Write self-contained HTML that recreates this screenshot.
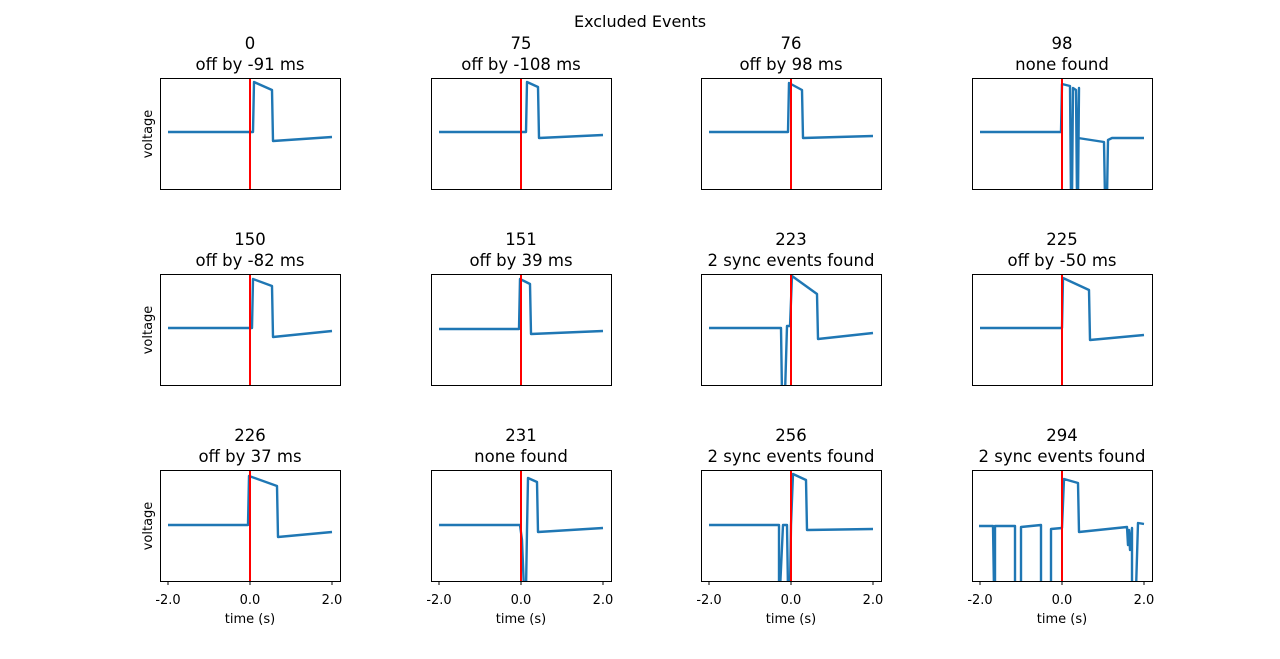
<!DOCTYPE html>
<html><head><style>body{margin:0;background:#fff}</style></head><body>
<svg width="1280" height="654" xmlns="http://www.w3.org/2000/svg" font-family="DejaVu Sans, Liberation Sans, sans-serif">
<rect width="1280" height="654" fill="#fff"/>
<text x="640" y="27" font-size="16" text-anchor="middle">Excluded Events</text>
<defs><clipPath id="c"><rect x="0" y="0" width="180" height="111"/></clipPath></defs>
<g font-size="16.5" text-anchor="middle">
<text x="250" y="49">0</text><text x="250" y="70">off by -91 ms</text>
<text x="521" y="49">75</text><text x="521" y="70">off by -108 ms</text>
<text x="791" y="49">76</text><text x="791" y="70">off by 98 ms</text>
<text x="1062" y="49">98</text><text x="1062" y="70">none found</text>
<text x="250" y="245">150</text><text x="250" y="266">off by -82 ms</text>
<text x="521" y="245">151</text><text x="521" y="266">off by 39 ms</text>
<text x="791" y="245">223</text><text x="791" y="266">2 sync events found</text>
<text x="1062" y="245">225</text><text x="1062" y="266">off by -50 ms</text>
<text x="250" y="441">226</text><text x="250" y="462">off by 37 ms</text>
<text x="521" y="441">231</text><text x="521" y="462">none found</text>
<text x="791" y="441">256</text><text x="791" y="462">2 sync events found</text>
<text x="1062" y="441">294</text><text x="1062" y="462">2 sync events found</text>
</g>
<g font-size="13" text-anchor="middle">
<text transform="translate(152,134) rotate(-90)">voltage</text>
<text transform="translate(152,330) rotate(-90)">voltage</text>
<text transform="translate(152,526) rotate(-90)">voltage</text>
</g>
<g font-size="13" text-anchor="middle">
<g id="tk"><text x="168" y="604">-2.0</text><text x="250" y="604">0.0</text><text x="332" y="604">2.0</text><text x="250" y="623">time (s)</text>
<path d="M168 581v4M250 581v4M332 581v4" stroke="#000"/></g>
<use href="#tk" x="271"/><use href="#tk" x="541"/><use href="#tk" x="812"/>
</g>
<g fill="none" stroke="#1f77b4" stroke-width="2.4" stroke-linejoin="round">
<g transform="translate(160,78)" clip-path="url(#c)"><polyline points="8,54 93,54 94,4 112,12 113,63 172,59"/></g>
<g transform="translate(431,78)" clip-path="url(#c)"><polyline points="8,54 95,54 96,4 107,9 108,60 172,57"/></g>
<g transform="translate(701,78)" clip-path="url(#c)"><polyline points="8,54 87,54 88,5 101,12 102,60 172,58"/></g>
<g transform="translate(972,78)" clip-path="url(#c)"><polyline points="8,54 89,54 90,6 98,8 99,120 100,120 101,10 104,12 105,120 106,120 107,10 106,60 132,64 133,120 135,120 136,62 140,60 172,60"/></g>
<g transform="translate(160,274)" clip-path="url(#c)"><polyline points="8,54 92,54 93,5 112,12 113,63 172,57"/></g>
<g transform="translate(431,274)" clip-path="url(#c)"><polyline points="8,55 88,55 89,5 99,10 100,60 172,57"/></g>
<g transform="translate(701,274)" clip-path="url(#c)"><polyline points="8,54 80,54 81,120 84,120 86,52 89,52 91,2 116,20 117,65 172,59"/></g>
<g transform="translate(972,274)" clip-path="url(#c)"><polyline points="8,54 90,54 91,4 117,16 118,66 172,61"/></g>
<g transform="translate(160,470)" clip-path="url(#c)"><polyline points="8,55 88,55 89,6 117,16 118,67 172,62"/></g>
<g transform="translate(431,470)" clip-path="url(#c)"><polyline points="8,55 89,55 91,70 93,120 95,120 96,60 97,8 106,12 107,62 172,58"/></g>
<g transform="translate(701,470)" clip-path="url(#c)"><polyline points="8,55 78,55 78,120 79,120 82,55 86,55 87,120 89,120 90,55 92,4 105,10 106,60 172,59"/></g>
<g transform="translate(972,470)" clip-path="url(#c)"><polyline points="7,56 21,56 22,120 23,120 23,56 43,56 43,120 49,120 49,57 69,55 69,120 79,120 79,59 90,58 92,9 106,13 107,62 155,57 156,75 157,60 158,80 160,58 160,120 164,120 166,53 172,54"/></g>
</g>
<g stroke="#f00" stroke-width="2">
<path d="M250 78v111M521 78v111M791 78v111M1062 78v111M250 274v111M521 274v111M791 274v111M1062 274v111M250 470v111M521 470v111M791 470v111M1062 470v111"/>
</g>
<g fill="none" stroke="#000" stroke-width="1">
<rect x="160.5" y="78.5" width="180" height="111"/><rect x="431.5" y="78.5" width="180" height="111"/><rect x="701.5" y="78.5" width="180" height="111"/><rect x="972.5" y="78.5" width="180" height="111"/>
<rect x="160.5" y="274.5" width="180" height="111"/><rect x="431.5" y="274.5" width="180" height="111"/><rect x="701.5" y="274.5" width="180" height="111"/><rect x="972.5" y="274.5" width="180" height="111"/>
<rect x="160.5" y="470.5" width="180" height="111"/><rect x="431.5" y="470.5" width="180" height="111"/><rect x="701.5" y="470.5" width="180" height="111"/><rect x="972.5" y="470.5" width="180" height="111"/>
</g>
</svg>
</body></html>
